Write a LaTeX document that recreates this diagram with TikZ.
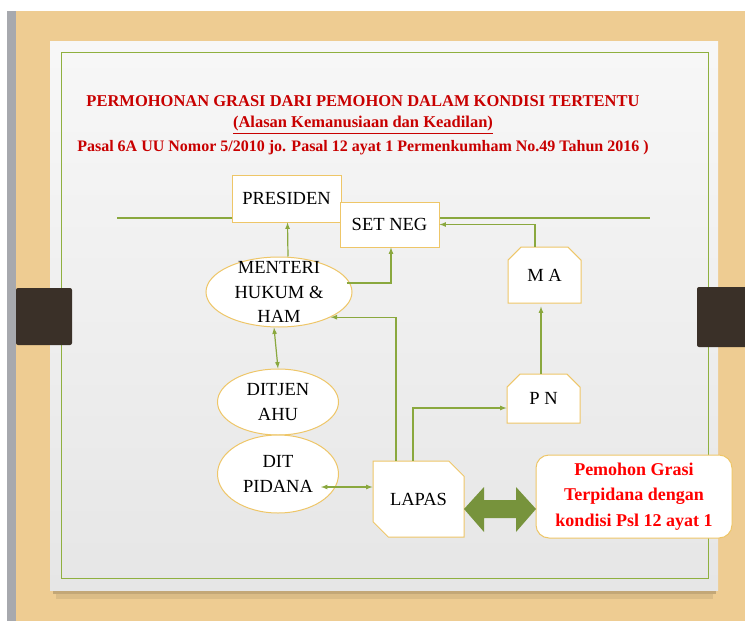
\documentclass[tikz,border=0pt]{standalone}
\usepackage{fontspec}
\setmainfont{Liberation Serif}
\usepackage{tikz}
\usetikzlibrary{shapes.geometric, shapes.misc, arrows, positioning, calc}
\definecolor{woodtan}{RGB}{238, 204, 146}
\definecolor{bargray}{RGB}{167, 169, 174}
\definecolor{slidegray}{RGB}{230, 230, 230}
\definecolor{framegreen}{RGB}{143, 176, 63}
\definecolor{linkgreen}{RGB}{138, 168, 62}
\definecolor{boxgold}{RGB}{238, 198, 104}
\definecolor{clipbrown}{RGB}{58, 48, 40}
\definecolor{arrowolive}{RGB}{119, 147, 60}
\definecolor{titlered}{RGB}{200, 0, 0}

\begin{document}
\begin{tikzpicture}[x=1pt, y=-1pt]
    \tikzstyle{box} = [rectangle, draw=boxgold, line width=1pt, fill=white, inner sep=0pt, font=\fontsize{18.5}{24.5}\selectfont, align=center]
    \tikzstyle{snip} = [box, chamfered rectangle, chamfered rectangle xsep=7pt, chamfered rectangle ysep=7pt]
    \tikzstyle{oval} = [ellipse, draw=boxgold, line width=1pt, fill=white, inner sep=0pt]
    \tikzstyle{ovaltext} = [inner sep=0pt, font=\fontsize{18.5}{24.5}\selectfont, align=center]
    \tikzstyle{titletext} = [inner sep=0pt, text=titlered, font=\fontsize{16.5}{20}\selectfont\bfseries]
    \tikzstyle{link} = [draw=linkgreen, line width=1.2pt, >=latex]

    % slide and wooden board
    \useasboundingbox (0,0) rectangle (745,621);
    \fill[white] (0,0) rectangle (745,621);
    \fill[woodtan] (16,11) rectangle (745,621);
    \fill[bargray] (7,11) rectangle (16,621);
    \fill[black, opacity=0.18] (53,590) rectangle (716,594);
    \fill[black, opacity=0.08] (56,594) rectangle (713,599);
    \shade[top color=white!97!black, bottom color=slidegray] (50,41) rectangle (718,590);
    \draw[framegreen, line width=1pt] (61,52) rectangle (708,578);
    \fill[clipbrown, rounded corners=2pt] (16,288) rectangle (72,345);
    \fill[clipbrown, rounded corners=2pt] (697,287) rectangle (750,347);

    % title
    \node (title1) [titletext] at (363,101.5) {PERMOHONAN GRASI DARI PEMOHON DALAM KONDISI TERTENTU};
    \node (title2) [titletext] at (363,125) {\underline{(Alasan Kemanusiaan dan Keadilan)}};
    \node (title3) [titletext, font=\fontsize{16}{20}\selectfont\bfseries] at (363,147.5) {Pasal 6A UU Nomor 5/2010 jo. Pasal 12 ayat 1 Permenkumham No.49 Tahun 2016 )};

    \coordinate (ruleL) at (117,218);
    \coordinate (ruleR) at (650,218);
    \draw[link] (ruleL) -- (ruleR);

    \node (presiden) [box, minimum width=109pt, minimum height=47pt] at (286.5,198.5) {PRESIDEN};
    \node (setneg) [box, minimum width=99pt, minimum height=45pt] at (389.5,224.5) {SET NEG};
    \node (menteri) [oval, minimum width=146pt, minimum height=70pt] at (279,292) {};
    \node (menteritext) [ovaltext] at (menteri.center) {MENTERI\\HUKUM \&\\HAM};
    \node (ditjen) [oval, minimum width=121pt, minimum height=66pt] at (278,402) {};
    \node (ditjentext) [ovaltext] at (ditjen.center) {DITJEN\\AHU};
    \node (ditpidana) [oval, minimum width=121pt, minimum height=78pt] at (278,474) {};
    \node (ditpidanatext) [ovaltext] at (ditpidana.center) {DIT\\PIDANA};
    \node (lapas) [snip, chamfered rectangle xsep=9pt, chamfered rectangle ysep=9pt, chamfered rectangle corners={north east, south west}, minimum width=91pt, minimum height=76pt] at (418.5,499) {LAPAS};
    \node (ma) [snip, chamfered rectangle corners={north east, north west}, minimum width=73pt, minimum height=56pt] at (544.5,275) {M A};
    \node (pn) [snip, chamfered rectangle corners={north east, north west}, minimum width=73pt, minimum height=49pt] at (543.5,398.5) {P N};
    \node (pemohon) [box, rounded corners=13pt, minimum width=196pt, minimum height=83pt, text=red, font=\fontsize{18}{25.5}\selectfont\bfseries] at (634,496.5) {Pemohon Grasi\\Terpidana dengan\\kondisi Psl 12 ayat 1};

    \draw[link, ->] ([xshift=9pt]menteri.north) -- ([xshift=1pt]presiden.south);
    \draw[link, ->] ([xshift=-6pt, yshift=9pt]menteri.east) -| ([xshift=1.5pt]setneg.south);
    \draw[link, ->] ([xshift=-22.5pt]lapas.north) |- (menteri.-26);
    \draw[link, <->] ([xshift=-5pt]menteri.south) -- (ditjen.north);
    \draw[link, <->] ([xshift=-18pt, yshift=-13pt]ditpidana.east) -- ([yshift=12pt]lapas.west);
    \draw[link, ->] ([xshift=-5.5pt]lapas.north) |- ([yshift=-9.5pt]pn.west);
    \draw[link, ->] ([xshift=-2.5pt]pn.north) -- ([xshift=-3.5pt, yshift=-3pt]ma.south);
    \draw[link, ->] ([xshift=-9.5pt]ma.north) |- (setneg.east);

    % big double arrow between LAPAS and the applicant
    \fill[arrowolive] (464,509) -- (484,487) -- (484,500) -- (516,500) -- (516,487) -- (536,509)
        -- (516,532) -- (516,518) -- (484,518) -- (484,532) -- cycle;
\end{tikzpicture}
\end{document}
